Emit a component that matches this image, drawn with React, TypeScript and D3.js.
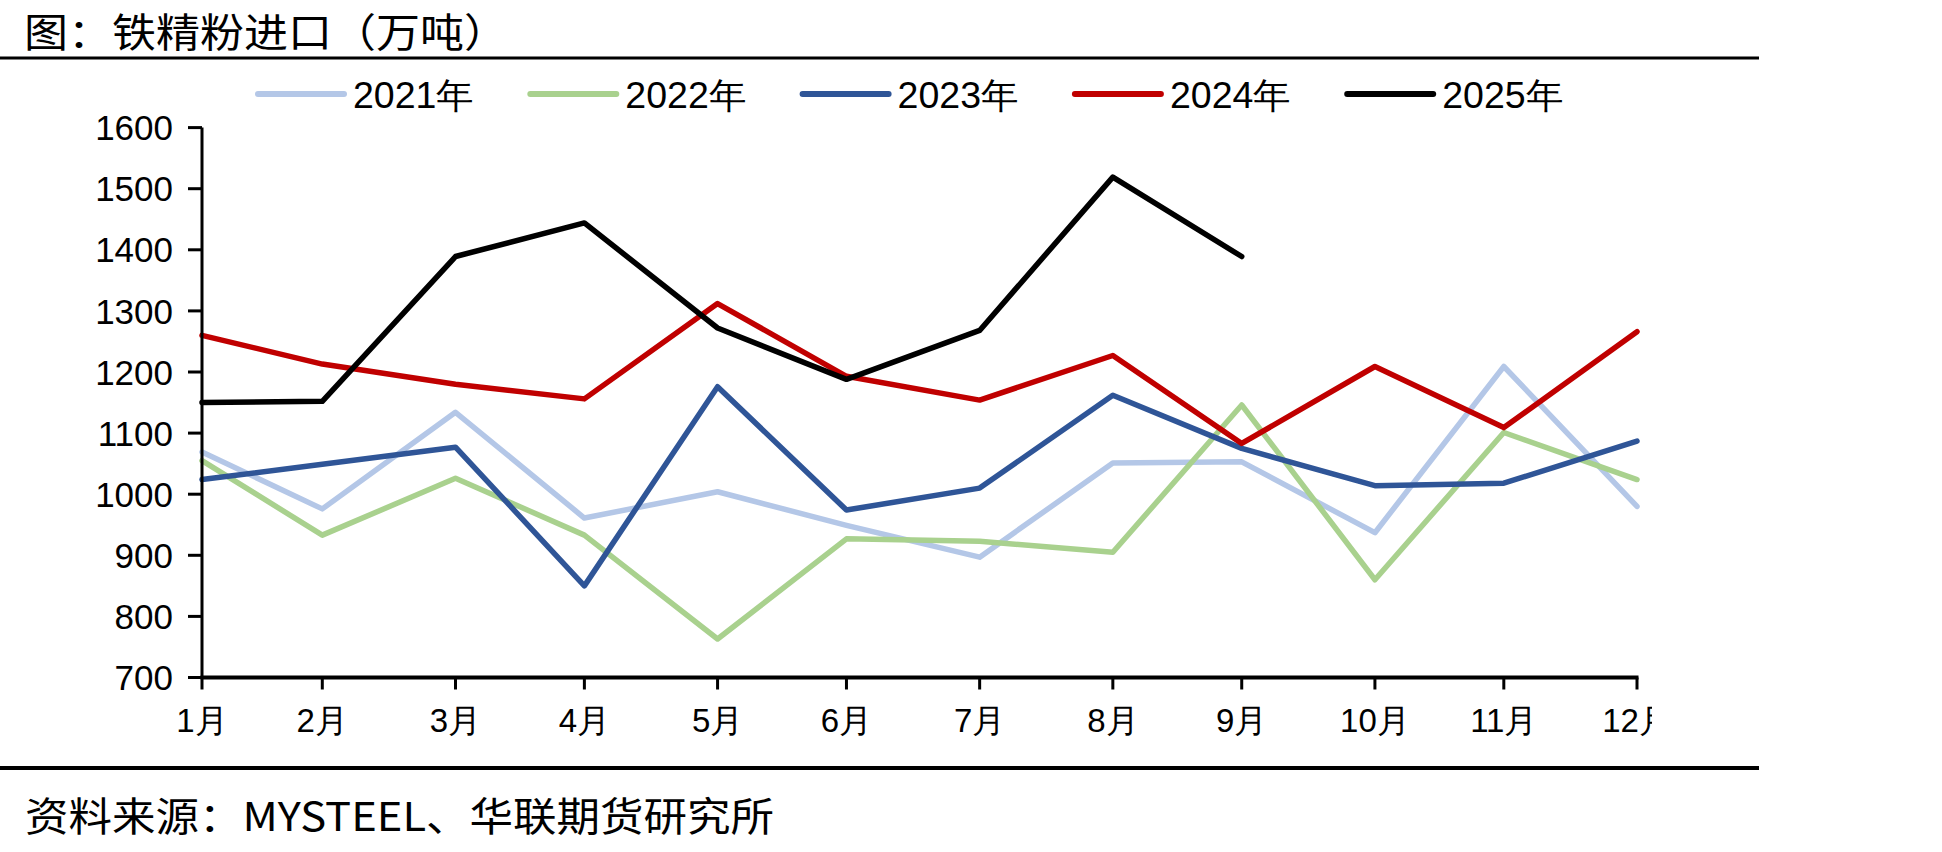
import React from "react";
import * as d3 from "d3";

const months = ["1月", "2月", "3月", "4月", "5月", "6月", "7月", "8月", "9月", "10月", "11月", "12月"];
// month-end dates, the source chart uses a date axis
const monthEnds = months.map((_, i) => new Date(2021, i + 1, 0));

const years = ["2021年", "2022年", "2023年", "2024年", "2025年"];
const colors = ["#B4C7E7", "#A9D18E", "#2F5597", "#C00000", "#000000"];

const v2021 = [1069, 976, 1134, 961, 1004, 949, 897, 1051, 1053, 937, 1209, 980];
const v2022 = [1055, 933, 1026, 933, 763, 927, 923, 905, 1146, 860, 1101, 1024];
const v2023 = [1024, 1049, 1077, 850, 1176, 974, 1010, 1162, 1075, 1014, 1018, 1087];
const v2024 = [1260, 1213, 1180, 1156, 1312, 1193, 1154, 1227, 1083, 1209, 1109, 1266];
const v2025 = [1150, 1152, 1389, 1444, 1272, 1188, 1268, 1519, 1389];

const series = [v2021, v2022, v2023, v2024, v2025];
const yTicks = [700, 800, 900, 1000, 1100, 1200, 1300, 1400, 1500, 1600];

const W = 1942;
const H = 852;

export default function App() {
  const x = d3.scaleTime().domain([monthEnds[0], monthEnds[11]]).range([202, 1637]);
  const y = d3.scaleLinear().domain([700, 1600]).range([677.5, 127.6]);

  const line = d3
    .line<number>()
    .x((_, i) => x(monthEnds[i]))
    .y((d) => y(d));

  const num = "'Liberation Sans', Arial, sans-serif";
  const cjk = "'Noto Sans CJK SC', sans-serif";

  return (
    <svg width={W} height={H} style={{ position: "absolute", left: 0, top: 0, background: "#fff" }}>
      <defs>
        <clipPath id="plotclip">
          <rect x={0} y={60} width={1652} height={700} />
        </clipPath>
      </defs>

      <text x={24} y={47} fontSize={40} fontFamily={cjk} fill="#000" textLength={484} lengthAdjust="spacingAndGlyphs">
        图：铁精粉进口（万吨）
      </text>
      <line x1={0} x2={1759} y1={58} y2={58} stroke="#000" strokeWidth={3} />

      {years.map((yr, i) => {
        const x0 = 258 + i * 272.3;
        return (
          <g key={yr}>
            <line x1={x0} x2={x0 + 86} y1={94} y2={94} stroke={colors[i]} strokeWidth={6} strokeLinecap="round" />
            <text x={x0 + 95} y={95} dominantBaseline="central" fontSize={36} fontFamily={num} textLength={121} lengthAdjust="spacingAndGlyphs">
              {yr}
            </text>
          </g>
        );
      })}

      <g clipPath="url(#plotclip)">
        {series.map((s, i) => (
          <path key={years[i]} d={line(s) ?? ""} fill="none" stroke={colors[i]} strokeWidth={5.5} strokeLinejoin="round" strokeLinecap="round" />
        ))}

        {/* y axis */}
        <line x1={x.range()[0]} x2={x.range()[0]} y1={y(1600)} y2={y(700) + 1.5} stroke="#000" strokeWidth={3} />
        {yTicks.map((t) => (
          <g key={t}>
            <line x1={188} x2={202} y1={y(t)} y2={y(t)} stroke="#000" strokeWidth={3} />
            <text x={173} y={y(t)} dy="0.36em" textAnchor="end" fontSize={35} fontFamily={num}>
              {t}
            </text>
          </g>
        ))}

        {/* x axis */}
        <line x1={200.5} x2={1638.5} y1={y(700)} y2={y(700)} stroke="#000" strokeWidth={4} />
        {monthEnds.map((d, i) => (
          <g key={months[i]}>
            <line x1={x(d)} x2={x(d)} y1={y(700)} y2={y(700) + 12} stroke="#000" strokeWidth={3} />
            <text x={x(d)} y={732} textAnchor="middle" fontSize={33} fontFamily={num}>
              {months[i]}
            </text>
          </g>
        ))}
      </g>

      <line x1={0} x2={1759} y1={768} y2={768} stroke="#000" strokeWidth={4} />
      <text x={25} y={831} fontSize={40} fontFamily={cjk} textLength={749} lengthAdjust="spacingAndGlyphs">
        资料来源：MYSTEEL、华联期货研究所
      </text>
    </svg>
  );
}
